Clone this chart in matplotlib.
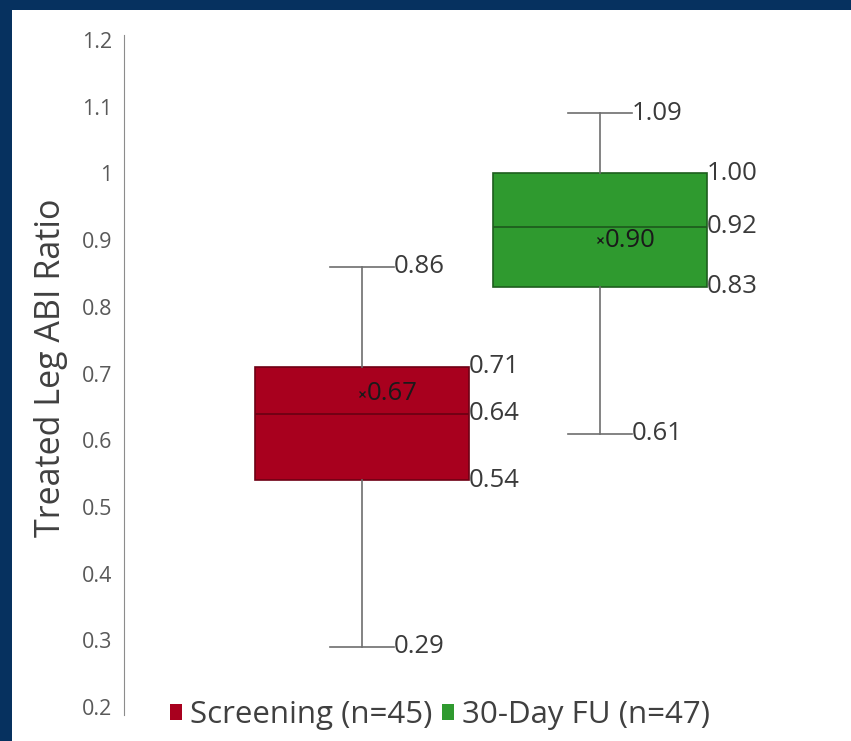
import matplotlib.pyplot as plt
from matplotlib.patches import Rectangle, Patch

plt.rcParams['font.family'] = ['Open Sans', 'DejaVu Sans']

# box plot summary values
groups = ['Screening (n=45)', '30-Day FU (n=47)']
whis_lo = [0.29, 0.61]
q1 = [0.54, 0.83]
medians = [0.64, 0.92]
q3 = [0.71, 1.00]
whis_hi = [0.86, 1.09]
means = [0.67, 0.90]
yticks = [0.2, 0.3, 0.4, 0.5, 0.6, 0.7, 0.8, 0.9, 1.0, 1.1, 1.2]
ytick_labels = ['0.2', '0.3', '0.4', '0.5', '0.6', '0.7', '0.8', '0.9', '1', '1.1', '1.2']

fills = ['#A8001E', '#2F9A2F']
edges = ['#6E0014', '#1E5E1E']
navy = '#06315F'

fig = plt.figure(figsize=(8.51, 7.41), dpi=100)
fig.patch.set_facecolor(navy)
# white panel inside the navy frame
fig.add_artist(Rectangle((12 / 851, 0), 1, 1 - 10 / 741, transform=fig.transFigure,
                         facecolor='white', edgecolor='none', zorder=-5))

ax = fig.add_axes([124 / 851, 1 - 707 / 741, 714 / 851, 667 / 741])
ax.set_facecolor('none')
ax.set_zorder(2)

stats = []
for i in range(len(groups)):
    stats.append({'whislo': whis_lo[i], 'q1': q1[i], 'med': medians[i], 'q3': q3[i],
                  'whishi': whis_hi[i], 'mean': means[i], 'fliers': [], 'label': groups[i]})

pos = [1, 2]
bp = ax.bxp(stats, positions=pos, widths=0.9, capwidths=0.27, patch_artist=True,
            showfliers=False, showmeans=False,
            whiskerprops=dict(color='#6E6E6E', linewidth=1.2),
            capprops=dict(color='#6E6E6E', linewidth=1.2),
            medianprops=dict(linewidth=1.3))
for i, box in enumerate(bp['boxes']):
    box.set_facecolor(fills[i])
    box.set_edgecolor(edges[i])
    box.set_linewidth(1.2)
    bp['medians'][i].set_color(edges[i])

ann_color = '#3A3A3A'
fs = 18.5
for i, p in enumerate(pos):
    ax.text(p + 0.135, whis_hi[i], '%.2f' % whis_hi[i], ha='left', va='center', fontsize=fs, color=ann_color)
    ax.text(p + 0.135, whis_lo[i], '%.2f' % whis_lo[i], ha='left', va='center', fontsize=fs, color=ann_color)
    for v in (q3[i], medians[i], q1[i]):
        ax.text(p + 0.45, v, '%.2f' % v, ha='left', va='center', fontsize=fs, color=ann_color)
    ax.plot(p, means[i], marker='x', markersize=4, color='#1a1a1a', markeredgewidth=1)
    ax.text(p + 0.02, means[i], '%.2f' % means[i], ha='left', va='center', fontsize=fs, color='#1a1a1a')

ax.set_xlim(0, 3)
ax.set_ylim(0.2, 1.2)
ax.set_yticks(yticks)
ax.set_yticklabels(ytick_labels)
ax.set_xticks([])
ax.tick_params(axis='y', length=0, pad=8.5, labelsize=15.5, labelcolor='#595959')
for s in ['top', 'right', 'bottom']:
    ax.spines[s].set_visible(False)
ax.spines['left'].set_color('#8C8C8C')
ax.spines['left'].set_bounds(0.188, 1.207)

ax.set_ylabel('Treated Leg ABI Ratio', fontsize=24.5, color='#404040')
ax.yaxis.set_label_coords(-0.079, 0.508)

handles = [Patch(facecolor=fills[0], edgecolor='none'), Patch(facecolor=fills[1], edgecolor='none')]
fig.legend(handles, groups, loc='center', bbox_to_anchor=(0.517, 1 - 715 / 741), ncol=2,
           frameon=False, fontsize=22.5, handlelength=0.4, handleheight=0.4,
           handletextpad=0.25, columnspacing=0.3, labelcolor='#404040')

fig.savefig('out.png', dpi=100, facecolor=fig.get_facecolor())
